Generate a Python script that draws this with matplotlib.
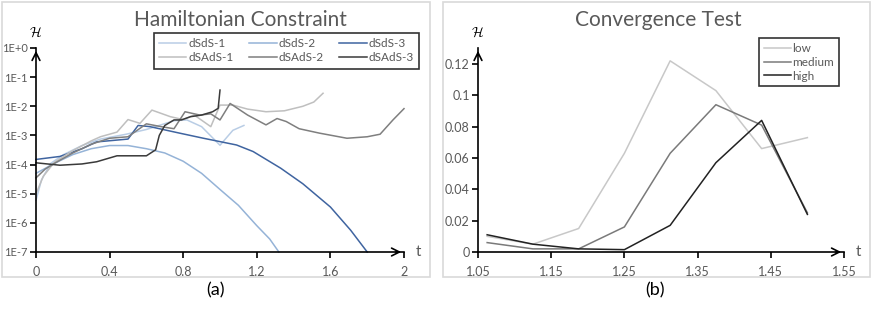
import matplotlib
matplotlib.use("Agg")
import matplotlib.pyplot as plt
from matplotlib.patches import Rectangle

plt.rcParams["font.family"] = ["Lato", "DejaVu Sans"]
plt.rcParams["mathtext.fontset"] = "cm"

# ---- panel (a): Hamiltonian constraint, log scale ----
t_dsds1 = [0, 0.03, 0.08, 0.15, 0.25, 0.35, 0.49, 0.6, 0.75, 0.82, 0.9, 1.0, 1.07, 1.13]
h_dsds1 = [6e-6, 3e-5, 1.1e-4, 2.2e-4, 4.5e-4, 7.5e-4, 1.1e-3, 1.6e-3, 3.2e-3, 3.4e-3, 2e-3, 4.6e-4, 1.5e-3, 2.2e-3]

t_dsds2 = [0, 0.1, 0.2, 0.3, 0.4, 0.5, 0.6, 0.7, 0.8, 0.9, 1.0, 1.1, 1.2, 1.27, 1.32]
h_dsds2 = [5e-5, 1.1e-4, 2.2e-4, 3.5e-4, 4.5e-4, 4.5e-4, 3.5e-4, 2.5e-4, 1.3e-4, 5e-5, 1.4e-5, 4e-6, 8e-7, 2.8e-7, 1e-7]

t_dsds3 = [0, 0.13, 0.25, 0.33, 0.5, 0.555, 0.62, 0.78, 0.91, 1.09, 1.18, 1.33, 1.45, 1.6, 1.71, 1.8]
h_dsds3 = [1.5e-4, 1.9e-4, 3.5e-4, 6e-4, 7.5e-4, 2.2e-3, 2e-3, 1.2e-3, 8e-4, 4.7e-4, 2.8e-4, 7.5e-5, 2.2e-5, 3.5e-6, 5.6e-7, 1e-7]

t_dsads1 = [0, 0.04, 0.1, 0.2, 0.3, 0.35, 0.44, 0.5, 0.565, 0.63, 0.73, 0.8, 0.86, 0.95, 1.0, 1.07,
            1.15, 1.25, 1.35, 1.45, 1.51, 1.56]
h_dsads1 = [1e-5, 4e-5, 1.2e-4, 3e-4, 6.5e-4, 9e-4, 1.3e-3, 3.5e-3, 2.6e-3, 7.4e-3, 4.4e-3, 3.5e-3, 5e-3, 2e-3,
            1.1e-2, 1.1e-2, 8e-3, 6.5e-3, 7e-3, 1e-2, 1.4e-2, 2.8e-2]

t_dsads2 = [0, 0.05, 0.1, 0.2, 0.3, 0.4, 0.5, 0.6, 0.68, 0.75, 0.81, 0.89, 0.95, 1.0, 1.055, 1.15,
            1.25, 1.31, 1.36, 1.43, 1.54, 1.69, 1.8, 1.87, 1.94, 2.0]
h_dsads2 = [3.5e-5, 7e-5, 1.1e-4, 2.5e-4, 5e-4, 8e-4, 9e-4, 2.5e-3, 2e-3, 1.7e-3, 6.5e-3, 5e-3, 5.5e-3, 3.4e-3, 1.25e-2, 5e-3,
            2.3e-3, 3.8e-3, 3e-3, 1.7e-3, 1.2e-3, 8e-4, 9e-4, 1.1e-3, 3.4e-3, 8.3e-3]

t_dsads3 = [0, 0.13, 0.25, 0.33, 0.44, 0.6, 0.65, 0.67, 0.7, 0.75, 0.79, 0.84, 0.9, 0.96, 0.99, 1.0]
h_dsads3 = [1.15e-4, 9.5e-5, 1.05e-4, 1.25e-4, 2e-4, 2e-4, 3.2e-4, 1e-3, 2.2e-3, 3.4e-3, 3.4e-3, 4.4e-3, 5e-3, 6.5e-3, 8.5e-3, 3.6e-2]

a_yticks = [1e-7, 1e-6, 1e-5, 1e-4, 1e-3, 1e-2, 1e-1, 1e0]
a_yticklabels = ["1E-7", "1E-6", "1E-5", "1E-4", "1E-3", "1E-2", "1E-1", "1E+0"]
a_xticks = [0, 0.4, 0.8, 1.2, 1.6, 2]
a_xticklabels = ["0", "0.4", "0.8", "1.2", "1.6", "2"]

# ---- panel (b): convergence test ----
t_conv = [1.0625, 1.125, 1.1875, 1.25, 1.3125, 1.375, 1.4375, 1.5]
h_low = [0.010, 0.005, 0.015, 0.063, 0.122, 0.103, 0.066, 0.073]
h_medium = [0.006, 0.002, 0.002, 0.016, 0.063, 0.094, 0.081, 0.025]
h_high = [0.011, 0.005, 0.002, 0.0015, 0.017, 0.057, 0.084, 0.024]

b_yticks = [0, 0.02, 0.04, 0.06, 0.08, 0.1, 0.12]
b_yticklabels = ["0", "0.02", "0.04", "0.06", "0.08", "0.1", "0.12"]
b_xticks = [1.05, 1.15, 1.25, 1.35, 1.45, 1.55]
b_xticklabels = ["1.05", "1.15", "1.25", "1.35", "1.45", "1.55"]

W, H = 872, 309
TXT = "#595959"


def px_axes(fig, x0, y0, x1, y1):
    # pixel box (top-left origin) -> figure axes
    return fig.add_axes([x0 / W, 1 - y1 / H, (x1 - x0) / W, (y1 - y0) / H])


def style_axes(ax, ysize):
    for s in ["top", "right"]:
        ax.spines[s].set_visible(False)
    for s in ["left", "bottom"]:
        ax.spines[s].set_linewidth(1.2)
        ax.spines[s].set_color("black")
    ax.tick_params(axis="both", direction="out", length=4, width=1.2, color="black",
                   labelcolor=TXT, labelsize=9, pad=3)
    ax.tick_params(axis="x", pad=6)
    ax.tick_params(axis="y", labelsize=ysize, pad=2)
    ax.minorticks_off()
    ax.patch.set_alpha(0)
    # arrows on the axes
    ax.annotate("", xy=(1.0, 0), xytext=(0.97, 0), xycoords="axes fraction",
                arrowprops=dict(arrowstyle="->", color="black", lw=1.2, mutation_scale=14),
                annotation_clip=False)
    ax.annotate("", xy=(0, 1.0), xytext=(0, 0.95), xycoords="axes fraction",
                arrowprops=dict(arrowstyle="->", color="black", lw=1.2, mutation_scale=14),
                annotation_clip=False)
    ax.text(1.04, 0, "t", transform=ax.transAxes, ha="center", va="center", color=TXT, fontsize=11)
    ax.text(0.0, 1.075, r"$\mathcal{H}$", transform=ax.transAxes, ha="center", va="center",
            color="black", fontsize=10)


def main():
    fig = plt.figure(figsize=(W / 100, H / 100), dpi=100)

    # panel frames
    fig.patches.append(Rectangle((2 / W, 1 - 277 / H), 428 / W, 275 / H, transform=fig.transFigure,
                                 fill=False, edgecolor="#d9d9d9", lw=1.2))
    fig.patches.append(Rectangle((443 / W, 1 - 277 / H), 427 / W, 275 / H, transform=fig.transFigure,
                                 fill=False, edgecolor="#d9d9d9", lw=1.2))

    # ---- (a) ----
    ax1 = px_axes(fig, 36, 48, 404, 252)
    series_a = [
        (t_dsds1, h_dsds1, "dSdS-1", "#b9cde5"),
        (t_dsds2, h_dsds2, "dSdS-2", "#95b3d7"),
        (t_dsds3, h_dsds3, "dSdS-3", "#3f64a0"),
        (t_dsads1, h_dsads1, "dSAdS-1", "#bfbfbf"),
        (t_dsads2, h_dsads2, "dSAdS-2", "#7f7f7f"),
        (t_dsads3, h_dsads3, "dSAdS-3", "#3a3a3a"),
    ]
    lines = {}
    for t, h, name, col in series_a:
        lines[name], = ax1.plot(t, h, color=col, lw=1.1, label=name, clip_on=False)
    ax1.set_yscale("log")
    ax1.set_xlim(0, 2)
    ax1.set_ylim(1e-7, 1e0)
    ax1.set_yticks(a_yticks)
    ax1.set_yticklabels(a_yticklabels)
    ax1.set_xticks(a_xticks)
    ax1.set_xticklabels(a_xticklabels)
    style_axes(ax1, 8)
    order = ["dSdS-1", "dSAdS-1", "dSdS-2", "dSAdS-2", "dSdS-3", "dSAdS-3"]
    leg = ax1.legend([lines[n] for n in order], order, ncol=3, loc="upper left",
                     bbox_to_anchor=((154 - 36) / 368, (252 - 33) / 204),
                     fontsize=8.5, frameon=True, fancybox=False, edgecolor="black",
                     handlelength=2.3, handletextpad=0.2, columnspacing=1.3,
                     borderpad=0.45, labelspacing=0.25, borderaxespad=0)
    leg.get_frame().set_linewidth(1.2)
    for txt in leg.get_texts():
        txt.set_color(TXT)
    fig.text(240 / W, 1 - 20 / H, "Hamiltonian Constraint", ha="center", va="center",
             fontsize=15, color=TXT)
    fig.text(215 / W, 1 - 290 / H, "(a)", ha="center", va="center", fontsize=13, color="black")

    # ---- (b) ----
    ax2 = px_axes(fig, 478, 48, 844, 252)
    ax2.plot(t_conv, h_low, color="#c8c8c8", lw=1.1, label="low")
    ax2.plot(t_conv, h_medium, color="#7a7a7a", lw=1.1, label="medium")
    ax2.plot(t_conv, h_high, color="#222222", lw=1.1, label="high")
    ax2.set_xlim(1.05, 1.55)
    ax2.set_ylim(0, 0.1302)
    ax2.set_yticks(b_yticks)
    ax2.set_yticklabels(b_yticklabels)
    ax2.set_xticks(b_xticks)
    ax2.set_xticklabels(b_xticklabels)
    style_axes(ax2, 9)
    leg2 = ax2.legend(loc="upper left", bbox_to_anchor=((759 - 478) / 366, (252 - 38) / 204),
                      fontsize=8.5, frameon=True, fancybox=False, edgecolor="black",
                      handlelength=2.3, handletextpad=0.1, borderpad=0.4,
                      labelspacing=0.25, borderaxespad=0)
    leg2.get_frame().set_linewidth(1.2)
    for txt in leg2.get_texts():
        txt.set_color(TXT)
    fig.text(658 / W, 1 - 20 / H, "Convergence Test", ha="center", va="center",
             fontsize=15, color=TXT)
    fig.text(655 / W, 1 - 290 / H, "(b)", ha="center", va="center", fontsize=13, color="black")

    fig.savefig("out.png", dpi=100)
    plt.close(fig)


if __name__ == "__main__":
    main()
